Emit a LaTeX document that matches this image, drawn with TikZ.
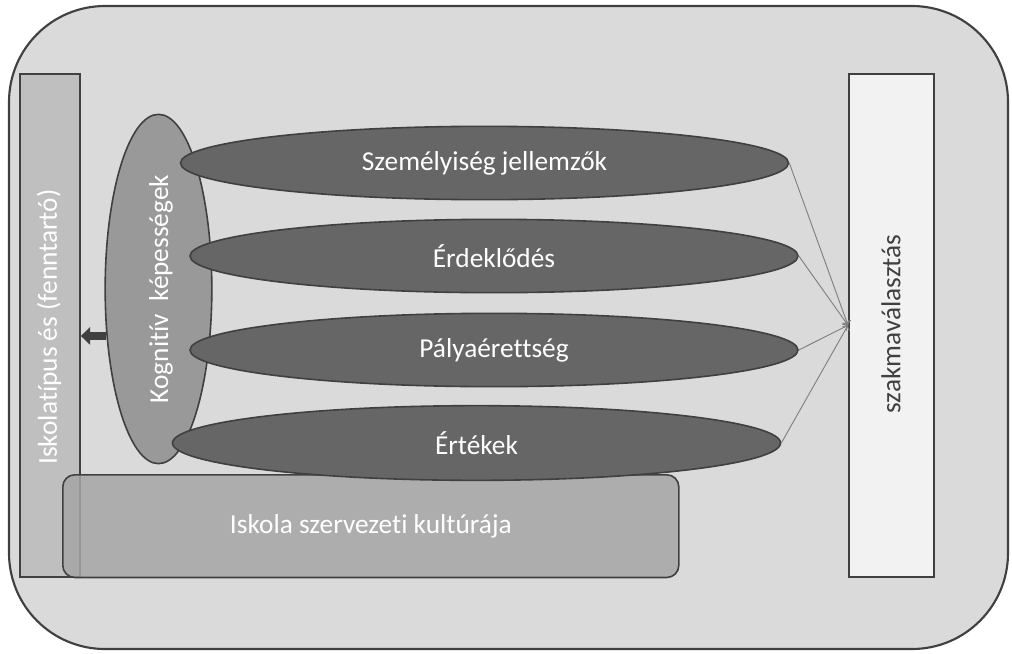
\documentclass[tikz,border=0pt]{standalone}
\usepackage{fontspec}
\setmainfont{Carlito}[Ligatures=NoCommon]
\usepackage{xcolor}
\usepackage{tikz}
\usetikzlibrary{shapes.geometric}
\usetikzlibrary{arrows.meta}

\definecolor{rim}{HTML}{404040}
\definecolor{backgr}{HTML}{DADADA}
\definecolor{barfill}{HTML}{BFBFBF}
\definecolor{choicefill}{HTML}{F2F2F2}
\definecolor{kogfill}{HTML}{999999}
\definecolor{factorfill}{HTML}{666666}
\definecolor{culturefill}{HTML}{A6A6A6}

\tikzset{
    txt/.style={font=\fontsize{20.5}{24}\selectfont},
    bar/.style={draw=rim, line width=1.4pt, minimum height=377, inner sep=0pt, anchor=north west},
    factor/.style={ellipse, draw=rim, line width=1.2pt, fill=factorfill, text=white, txt,
        minimum width=456, minimum height=55, inner sep=0pt},
    link/.style={->, gray, line width=0.7pt}
}

\begin{document}
\begin{tikzpicture}[x=0.75pt, y=-0.75pt]
    \useasboundingbox (0, 0) rectangle (1012, 653);
    \draw[rim, line width=1.6pt, fill=backgr, rounded corners=72] (9, 6) rectangle (1008, 649);

    % side bars
    \node[bar, fill=barfill, minimum width=45] (isktip) at (19, 73) {};
    \node[rotate=90, text=white, txt] (isktiptxt) at (49, 327) {Iskolatípus és (fenntartó)};
    \node[bar, fill=choicefill, minimum width=64] (szakma) at (848, 73) {};
    \node[rotate=90, text=rim, txt] (szakmatxt) at (891, 324) {szakmaválasztás};

    \node[draw=rim, line width=1.2pt, fill=culturefill, fill opacity=0.85, text opacity=1, text=white, txt, rounded corners=9, minimum width=462, minimum height=77, inner sep=0pt, anchor=north west] (kultura) at (62, 474) {Iskola szervezeti kultúrája};

    \node[ellipse, draw=rim, line width=1.2pt, fill=kogfill, minimum width=80, minimum height=262, inner sep=0pt] (kog) at (158.5, 289) {};
    \node[rotate=90, text=white, txt] (kogtxt) at (161, 289) {Kognitív\ \ képességek};
    \draw[rim, line width=5.5pt, -{Triangle[length=7pt, width=13pt]}] (kog.222) -- (kog.222 -| isktip.east);

    % factors
    \node[factor] (szemely) at (484.5, 163) {Személyiség jellemzők};
    \node[factor] (erdek) at (494, 256) {Érdeklődés};
    \node[factor] (palya) at (494, 350) {Pályaérettség};
    \node[factor, minimum height=56] (ertek) at (476.5, 443) {Értékek};

    \foreach \f in {szemely, erdek, palya, ertek}
        \draw[link] (\f.east) -- (szakma.west);
\end{tikzpicture}
\end{document}
